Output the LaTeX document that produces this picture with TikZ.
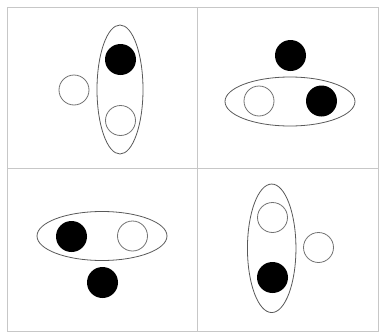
\documentclass[tikz,border=0pt]{standalone}
\usetikzlibrary{shapes.geometric}
\begin{document}
\begin{tikzpicture}[x=1pt,y=-1pt,
  frameline/.style={draw=black!22,line width=0.9pt},
  ring/.style={ellipse,draw=black!65,line width=0.8pt,inner sep=0pt},
  whiteball/.style={circle,draw=black!55,line width=0.8pt,fill=white,minimum size=30pt,inner sep=0pt},
  blackball/.style={circle,fill=black,minimum size=31pt,inner sep=0pt}]
\useasboundingbox (0,0) rectangle (381,335);
\fill[white] (0,0) rectangle (381,335);
\draw[frameline] (7,7) rectangle (378,331);
\draw[frameline] (197,7) -- (197,331);
\draw[frameline] (7,168) -- (378,168);
% quadrant 1
\node[ring,minimum width=46pt,minimum height=129pt] (e1) at (120,89.5) {};
\node[blackball] (b1) at (120.5,59.5) {};
\node[whiteball] (w1) at (120.5,120.5) {};
\node[whiteball] (w1o) at (74,90) {};
% quadrant 2
\node[ring,minimum width=130pt,minimum height=49pt] (e2) at (290,101.5) {};
\node[blackball] (b2o) at (290.5,55.5) {};
\node[whiteball] (w2) at (259,101) {};
\node[blackball] (b2) at (321.5,101) {};
% quadrant 3
\node[ring,minimum width=130pt,minimum height=49pt] (e3) at (102,236) {};
\node[blackball] (b3) at (71.5,236.5) {};
\node[whiteball] (w3) at (132.5,236) {};
\node[blackball] (b3o) at (102.5,282.5) {};
% quadrant 4
\node[ring,minimum width=48.5pt,minimum height=128.5pt] (e4) at (271.7,248.3) {};
\node[whiteball] (w4) at (272.5,217.5) {};
\node[blackball] (b4) at (272.5,277.5) {};
\node[whiteball] (w4o) at (318.5,247.5) {};
\end{tikzpicture}
\end{document}
